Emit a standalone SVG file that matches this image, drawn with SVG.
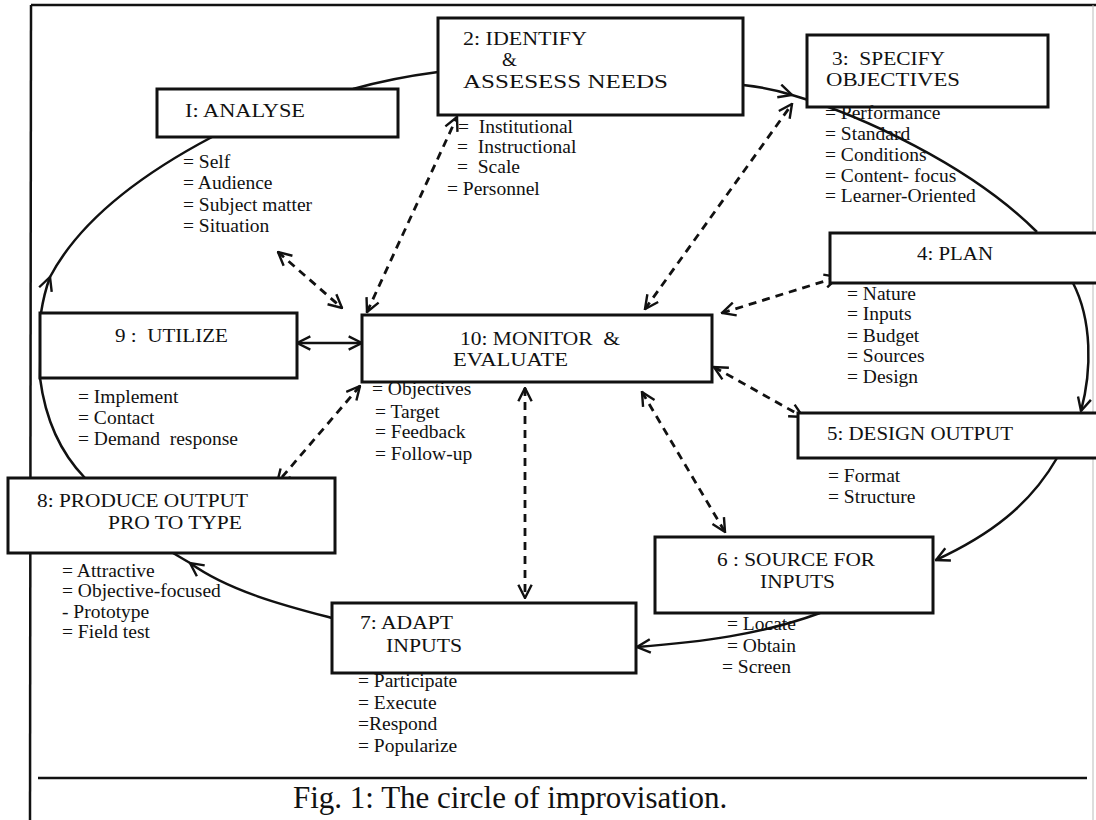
<svg xmlns="http://www.w3.org/2000/svg" width="1096" height="820" viewBox="0 0 1096 820">
<style>
text{font-family:"Liberation Serif","Times New Roman",serif;fill:#111}
.lbl{font-size:19px}
.it{font-size:19.5px}
.cap{font-size:31px}
.box{fill:#fff;stroke:#111;stroke-width:3}
.frame{stroke:#111;stroke-width:2.5;fill:none}
.flow{fill:none;stroke:#111;stroke-width:2.5}
.dash{fill:none;stroke:#111;stroke-width:2.8;stroke-dasharray:8 6}
</style>
<defs>
<marker id="ah" viewBox="0 0 12 12" refX="11" refY="6" markerWidth="16" markerHeight="16" markerUnits="userSpaceOnUse" orient="auto-start-reverse">
<path d="M1,1 L11,6 L1,11" fill="none" stroke="#111" stroke-width="1.8"/>
</marker>
</defs>
<rect width="1096" height="820" fill="#fff"/>
<g id="frame">
<line class="frame" x1="31" y1="5" x2="1096" y2="5" stroke-width="3"/>
<line class="frame" x1="31" y1="5" x2="30" y2="820"/>
<line x1="1093" y1="5" x2="1093" y2="820" stroke="#bbb" stroke-width="1"/>
<line class="frame" x1="38" y1="778" x2="1087" y2="778"/>
</g>
<g id="connectors">
<path class="flow" d="M438,72 Q392,78 353,89"/>
<path class="flow" d="M50,277 C80,220 140,175 212,137"/>
<path class="flow" d="M85,478 Q48,440 40,378 L41,313 C43,300 46,288 50,277" marker-end="url(#ah)"/>
<path class="flow" d="M743,85 Q770,88 792,95" marker-end="url(#ah)"/>
<path class="flow" d="M792,95 C860,115 970,165 1037,232"/>
<path class="flow" d="M1073,283 C1092,320 1092,370 1081,411" marker-end="url(#ah)"/>
<path class="flow" d="M1057,458 C1030,505 990,535 936,560" marker-end="url(#ah)"/>
<path class="flow" d="M820,613 C760,635 700,642 637,647" marker-end="url(#ah)"/>
<path class="flow" d="M332,618 C290,607 230,592 190,563" marker-end="url(#ah)"/>
<path class="flow" d="M190,563 L173,553"/>
<line class="flow" x1="297" y1="343" x2="362" y2="343" marker-start="url(#ah)" marker-end="url(#ah)"/>
<line class="dash" x1="278" y1="252" x2="342" y2="308" marker-start="url(#ah)" marker-end="url(#ah)"/>
<line class="dash" x1="367" y1="312" x2="457" y2="117" marker-start="url(#ah)" marker-end="url(#ah)"/>
<line class="dash" x1="645" y1="309" x2="792" y2="104" marker-start="url(#ah)" marker-end="url(#ah)"/>
<line class="dash" x1="722" y1="313" x2="838" y2="277" marker-start="url(#ah)" marker-end="url(#ah)"/>
<line class="dash" x1="714" y1="367" x2="803" y2="417" marker-start="url(#ah)" marker-end="url(#ah)"/>
<line class="dash" x1="525" y1="388" x2="525" y2="598" marker-start="url(#ah)" marker-end="url(#ah)"/>
<line class="dash" x1="642" y1="392" x2="725" y2="532" marker-start="url(#ah)" marker-end="url(#ah)"/>
<line class="dash" x1="360" y1="386" x2="277" y2="483" marker-start="url(#ah)" marker-end="url(#ah)"/>
</g>
<g id="n1">
<rect class="box" x="157" y="89" width="241" height="48"/>
<text class="lbl" x="185" y="117" textLength="120" lengthAdjust="spacingAndGlyphs">I: ANALYSE</text>
<text class="it" x="183" y="168">= Self</text>
<text class="it" x="183" y="189">= Audience</text>
<text class="it" x="183" y="211">= Subject matter</text>
<text class="it" x="183" y="232">= Situation</text>
</g>
<g id="n2">
<rect class="box" x="438" y="18" width="305" height="97"/>
<text class="lbl" x="463" y="45" textLength="124" lengthAdjust="spacingAndGlyphs">2: IDENTIFY</text>
<text class="lbl" x="502" y="66">&amp;</text>
<text class="lbl" x="463" y="88" textLength="205" lengthAdjust="spacingAndGlyphs">ASSESESS NEEDS</text>
<text class="it" x="458" y="133" xml:space="preserve">=  Institutional</text>
<text class="it" x="457" y="153" xml:space="preserve">=  Instructional</text>
<text class="it" x="457" y="173" xml:space="preserve">=  Scale</text>
<text class="it" x="447" y="195">= Personnel</text>
</g>
<g id="n3">
<rect class="box" x="807" y="35" width="241" height="72"/>
<text class="lbl" x="832" y="65" xml:space="preserve" textLength="113" lengthAdjust="spacingAndGlyphs">3:  SPECIFY</text>
<text class="lbl" x="826" y="86" textLength="134" lengthAdjust="spacingAndGlyphs">OBJECTIVES</text>
<text class="it" x="825" y="119">= Performance</text>
<text class="it" x="825" y="140">= Standard</text>
<text class="it" x="825" y="161">= Conditions</text>
<text class="it" x="825" y="182">= Content- focus</text>
<text class="it" x="825" y="202">= Learner-Oriented</text>
</g>
<g id="n4">
<rect class="box" x="830" y="233" width="280" height="50"/>
<text class="lbl" x="917" y="260" textLength="76" lengthAdjust="spacingAndGlyphs">4: PLAN</text>
<text class="it" x="847" y="300">= Nature</text>
<text class="it" x="847" y="320">= Inputs</text>
<text class="it" x="847" y="342">= Budget</text>
<text class="it" x="847" y="362">= Sources</text>
<text class="it" x="847" y="383">= Design</text>
</g>
<g id="n5">
<rect class="box" x="798" y="413" width="310" height="45"/>
<text class="lbl" x="827" y="440" textLength="186" lengthAdjust="spacingAndGlyphs">5: DESIGN OUTPUT</text>
<text class="it" x="828" y="482">= Format</text>
<text class="it" x="828" y="503">= Structure</text>
</g>
<g id="n6">
<rect class="box" x="655" y="537" width="278" height="76"/>
<text class="lbl" x="717" y="566" textLength="158" lengthAdjust="spacingAndGlyphs">6 : SOURCE FOR</text>
<text class="lbl" x="760" y="588" textLength="75" lengthAdjust="spacingAndGlyphs">INPUTS</text>
<text class="it" x="727" y="630">= Locate</text>
<text class="it" x="727" y="652">= Obtain</text>
<text class="it" x="722" y="673">= Screen</text>
</g>
<g id="n7">
<rect class="box" x="332" y="603" width="304" height="70"/>
<text class="lbl" x="360" y="629" textLength="93" lengthAdjust="spacingAndGlyphs">7: ADAPT</text>
<text class="lbl" x="386" y="652" textLength="76" lengthAdjust="spacingAndGlyphs">INPUTS</text>
<text class="it" x="358" y="687">= Participate</text>
<text class="it" x="358" y="709">= Execute</text>
<text class="it" x="358" y="730">=Respond</text>
<text class="it" x="358" y="752">= Popularize</text>
</g>
<g id="n8">
<rect class="box" x="8" y="478" width="327" height="75"/>
<text class="lbl" x="37" y="507" textLength="211" lengthAdjust="spacingAndGlyphs">8: PRODUCE OUTPUT</text>
<text class="lbl" x="108" y="529" textLength="134" lengthAdjust="spacingAndGlyphs">PRO TO TYPE</text>
<text class="it" x="62" y="577">= Attractive</text>
<text class="it" x="62" y="597">= Objective-focused</text>
<text class="it" x="62" y="618">- Prototype</text>
<text class="it" x="62" y="638">= Field test</text>
</g>
<g id="n9">
<rect class="box" x="40" y="313" width="257" height="65"/>
<text class="lbl" x="115" y="342" xml:space="preserve" textLength="113" lengthAdjust="spacingAndGlyphs">9 :  UTILIZE</text>
<text class="it" x="78" y="403">= Implement</text>
<text class="it" x="78" y="424">= Contact</text>
<text class="it" x="78" y="445" xml:space="preserve">= Demand  response</text>
</g>
<g id="n10">
<rect class="box" x="362" y="315" width="350" height="67"/>
<text class="lbl" x="460" y="345" xml:space="preserve" textLength="160" lengthAdjust="spacingAndGlyphs">10: MONITOR  &amp;</text>
<text class="lbl" x="453" y="366" textLength="115" lengthAdjust="spacingAndGlyphs">EVALUATE</text>
<text class="it" x="372" y="395">= Objectives</text>
<text class="it" x="375" y="418">= Target</text>
<text class="it" x="375" y="438">= Feedback</text>
<text class="it" x="375" y="460">= Follow-up</text>
</g>
<text class="cap" x="293" y="808">Fig. 1: The circle of improvisation.</text>
</svg>
